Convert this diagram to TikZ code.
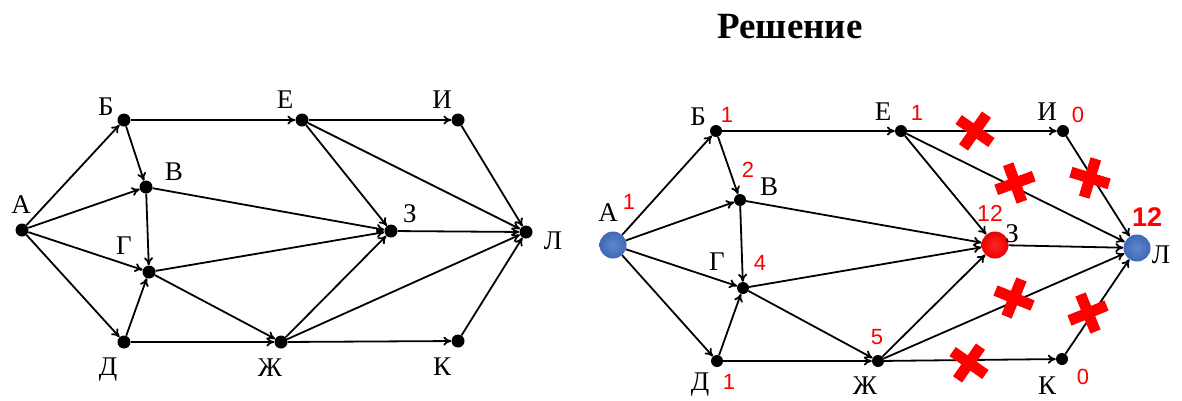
\documentclass[tikz,border=0pt]{standalone}
\usepackage{fontspec}
\setmainfont{Liberation Serif}
\newfontfamily\sansf{Liberation Sans}
\usetikzlibrary{arrows.meta}
\definecolor{ballblue}{RGB}{68,114,196}
\begin{document}
\begin{tikzpicture}[x=1pt,y=-1pt,
  dot/.style={circle,fill=black,inner sep=0pt,minimum size=13pt},
  rdot/.style={circle,fill=black,inner sep=0pt,minimum size=12pt},
  ball/.style={circle,inner sep=0pt,minimum size=27pt,inner color=#1!85!white,outer color=#1!92!black},
  edge/.style={line width=1.8pt,-{To[length=8pt,width=9pt]}},
  lbl/.style={font=\fontsize{27}{30}\selectfont,inner sep=0pt},
  num/.style={text=red,font=\sansf\fontsize{22}{26}\selectfont,inner sep=0pt},
  xbar/.style={red,line width=11pt}]
\useasboundingbox (0,0) rectangle (1182,400);

\node[font=\bfseries\fontsize{37}{40}\selectfont,inner sep=0pt] (title) at (790,27) {Решение};

% ---------- left graph ----------
\node[dot] (A) at (22,230) {};
\node[dot] (B) at (124,120) {};
\node[dot] (V) at (146,187) {};
\node[dot] (G) at (149,272) {};
\node[dot] (D) at (124,342) {};
\node[dot] (E) at (302,120) {};
\node[dot] (Zh) at (281,342) {};
\node[dot] (Z) at (391,231) {};
\node[dot] (I) at (458,120) {};
\node[dot] (K) at (458,341) {};
\node[dot] (L) at (526,232) {};

\foreach \s/\t in {A/B,A/V,A/G,A/D,B/V,B/E,V/G,V/Z,D/G,D/Zh,G/Z,G/Zh,E/I,E/Z,E/L,Zh/Z,Zh/L,Zh/K,Z/L,I/L,K/L}
  \draw[edge] (\s) -- (\t);

\node[lbl] (lA) at (21,205) {А};
\node[lbl] (lB) at (106,107) {Б};
\node[lbl] (lV) at (174,172) {В};
\node[lbl] (lG) at (124,246) {Г};
\node[lbl] (lD) at (108,370) {Д};
\node[lbl] (lE) at (285,100) {Е};
\node[lbl] (lZh) at (270,368) {Ж};
\node[lbl] (lZ) at (410,214) {З};
\node[lbl] (lI) at (442,100) {И};
\node[lbl] (lK) at (442,367) {К};
\node[lbl] (lL) at (553,241) {Л};

% ---------- right graph ----------
\node[ball=ballblue] (rA) at (613,245) {};
\node[rdot] (rB) at (716,131) {};
\node[rdot] (rV) at (740,200) {};
\node[rdot] (rG) at (743,288) {};
\node[rdot] (rD) at (717,361) {};
\node[rdot] (rE) at (901,131) {};
\node[rdot] (rZh) at (878,361) {};
\node[ball=red] (rZ) at (995,245) {};
\node[rdot] (rI) at (1063,131) {};
\node[rdot] (rK) at (1062,359) {};
\node[ball=ballblue] (rL) at (1137,248) {};

\foreach \s/\t in {rA/rB,rA/rV,rA/rG,rA/rD,rB/rV,rB/rE,rV/rG,rV/rZ,rD/rG,rD/rZh,rG/rZ,rG/rZh,rE/rI,rE/rZ,rE/rL,rZh/rZ,rZh/rL,rZh/rK,rZ/rL,rI/rL,rK/rL}
  \draw[edge] (\s) -- (\t);

\node[lbl] (rlA) at (608,213) {А};
\node[num] (nA) at (629,202) {1};
\node[lbl] (rlB) at (698,117) {Б};
\node[num] (nB) at (727,115) {1};
\node[num] (nV) at (748,170) {2};
\node[lbl] (rlV) at (769,187) {В};
\node[lbl] (rlG) at (717,262) {Г};
\node[num] (nG) at (760,263) {4};
\node[lbl] (rlD) at (700,385) {Д};
\node[num] (nD) at (729,382) {1};
\node[lbl] (rlZh) at (865,386) {Ж};
\node[num] (nZh) at (877,337) {5};
\node[lbl] (rlE) at (883,112) {Е};
\node[num] (nE) at (917,113) {1};
\node[lbl] (rlI) at (1047,112) {И};
\node[num] (nI) at (1078,115) {0};
\node[lbl] (rlZ) at (1012,234) {З};
\node[num,font=\sansf\fontsize{23}{26}\selectfont] (nZ) at (990,213) {12};
\node[lbl] (rlL) at (1161,255) {Л};
\node[num,font=\sansf\bfseries\fontsize{27}{30}\selectfont] (nL) at (1147,217) {12};
\node[lbl] (rlK) at (1047,386) {К};
\node[num] (nK) at (1083,377) {0};

% ---------- crosses ----------
\foreach \cx/\cy/\rot in {975/131/55, 969/363/55, 1015/183/20, 1090/178/-17, 1014/298/-22, 1088/313/22}{
  \begin{scope}[shift={(\cx,\cy)},rotate=\rot]
    \draw[xbar] (-20,0) -- (20,0);
    \draw[xbar] (0,-20) -- (0,20);
  \end{scope}
}
\end{tikzpicture}
\end{document}
